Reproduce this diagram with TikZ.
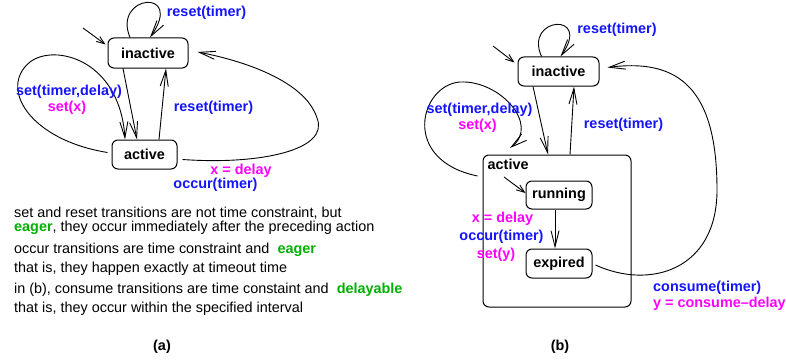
\documentclass[tikz,border=0pt]{standalone}
\usepackage{fontspec}
\setmainfont{Liberation Sans}
\usepackage{xcolor}
\usetikzlibrary{arrows.meta,calc}
\definecolor{actblue}{RGB}{20,20,255}
\definecolor{asgmag}{RGB}{255,0,255}
\definecolor{eagergreen}{RGB}{0,176,0}
\newcommand{\figfont}{\fontsize{14.4pt}{17pt}\selectfont}
\tikzset{
  state/.style={draw, rounded corners=6pt, font=\figfont\bfseries, inner sep=0pt, line width=1pt},
  act/.style={text=actblue, font=\figfont\bfseries, inner sep=0pt},
  asg/.style={text=asgmag, font=\figfont\bfseries, inner sep=0pt},
  note/.style={anchor=base west, font=\figfont, inner sep=0pt},
  flow/.style={-{Straight Barb[length=16pt,width=8pt]}, line width=0.9pt},
  init/.style={-{Straight Barb[length=8pt,width=6pt]}, line width=0.9pt},
}

\begin{document}
\begin{tikzpicture}[x=1pt, y=-1pt, font=\figfont]
  \useasboundingbox (0,0) rectangle (786,361);
  % (a) flat timer
  \node[state, minimum width=80pt, minimum height=30pt] (ina) at (148,53) {inactive};
  \node[state, minimum width=65pt, minimum height=29pt] (acta) at (144.5,154.5) {active};
  \coordinate (ia) at (83,28);
  \draw[init] (ia) -- ([shift={(-2,7)}]ina.north west);
  \draw[flow] ([shift={(-18,0)}]ina.north) .. controls +(-18,-43) and +(35,-50) .. ([shift={(2,0)}]ina.north);
  \draw[flow] ([shift={(-25,0)}]ina.south) -- ([shift={(-7.5,0)}]acta.north);
  \draw[flow] ([shift={(14.5,0)}]acta.north) -- ([shift={(18,0)}]ina.south);
  \draw[flow] ([shift={(-4,-2)}]acta.west) .. controls (30,140) and (-2,88) .. (30,62)
    .. controls (55,43) and (120,60) .. ([shift={(-19.5,0)}]acta.north);
  \draw[flow] ([shift={(5,5)}]acta.east) .. controls (260,165) and (330,150) .. (317,118)
    .. controls (305,80) and (240,60) .. ([shift={(9,-1)}]ina.east);
  \node[act] (la1) at (206.5,13) {reset(timer)};
  \node[act] (la2) at (69,92) {set(timer,delay)};
  \node[asg] (la3) at (67,108) {set(x)};
  \node[act] (la4) at (213.5,108) {reset(timer)};
  \node[asg] (la5) at (241,171) {x = delay};
  \node[act] (la6) at (215.5,185) {occur(timer)};
  % notes
  \node[note] (n1) at (14,217) {set and reset transitions are not time constraint, but};
  \node[note] (n2) at (14,231) {\textcolor{eagergreen}{\bfseries eager}, they occur immediately after the preceding action};
  \node[note] (n3) at (14,253) {occur transitions are time constraint and\ \ \textcolor{eagergreen}{\bfseries eager}};
  \node[note] (n4) at (14,272) {that is, they happen exactly at timeout time};
  \node[note] (n5) at (14,293) {in (b), consume transitions are time constaint and\ \ \textcolor{eagergreen}{\bfseries delayable}};
  \node[note] (n6) at (14,312) {that is, they occur within the specified interval};
  \node[font=\figfont\bfseries, inner sep=0pt] (capa) at (162,347) {(a)};

  % (b) hierarchical timer
  \node[state, minimum width=148pt, minimum height=152pt] (actb) at (557,231) {};
  \node[anchor=north west, font=\figfont\bfseries, inner sep=0pt] (actbl) at ([shift={(5,4)}]actb.north west) {active};
  \node[state, minimum width=81pt, minimum height=29pt] (inb) at (558.5,71.5) {inactive};
  \node[state, minimum width=66pt, minimum height=28pt] (run) at (559,195) {running};
  \node[state, minimum width=66pt, minimum height=29pt] (exp) at (559,263.5) {expired};
  \coordinate (ib) at (493,46);
  \coordinate (ir) at (504,177);
  \coordinate (lb) at (510,148);
  \draw[init] (ib) -- ([shift={(-3,6)}]inb.north west);
  \draw[flow] ([shift={(-17,0)}]inb.north) .. controls +(-18,-40) and +(32,-45) .. ([shift={(2,0)}]inb.north);
  \draw[flow] ([shift={(-25.5,0)}]inb.south) -- ([shift={(-9,0)}]actb.north);
  \draw[flow] ([shift={(13,0)}]actb.north) -- ([shift={(15.5,0)}]inb.south);
  \draw[flow] ([shift={(-5,-55)}]actb.west) .. controls (400,160) and (420,85) .. (460,82)
    .. controls (500,80) and (540,125) .. (lb);
  \draw[init] (ir) -- ([shift={(0,-2)}]run.west);
  \draw[flow] ([shift={(-4,0)}]run.south) -- ([shift={(-4,0)}]exp.north);
  \draw[flow] ([shift={(3,1.5)}]exp.east) .. controls (650,290) and (717,270) .. (717,190)
    .. controls (717,90) and (680,58) .. ([shift={(8,-4)}]inb.east);
  \node[act] (lb1) at (617,30) {reset(timer)};
  \node[act] (lb2) at (479.5,110) {set(timer,delay)};
  \node[asg] (lb3) at (477.5,126) {set(x)};
  \node[act] (lb4) at (623.5,125) {reset(timer)};
  \node[asg] (lb5) at (502.5,219) {x = delay};
  \node[act] (lb6) at (501.5,237) {occur(timer)};
  \node[asg] (lb7) at (496,255) {set(y)};
  \node[act, anchor=west] (lb8) at (653,288) {consume(timer)};
  \node[asg, anchor=west] (lb9) at (653,304) {y = consume–delay};
  \node[font=\figfont\bfseries, inner sep=0pt] (capb) at (560,347) {(b)};
\end{tikzpicture}
\end{document}
